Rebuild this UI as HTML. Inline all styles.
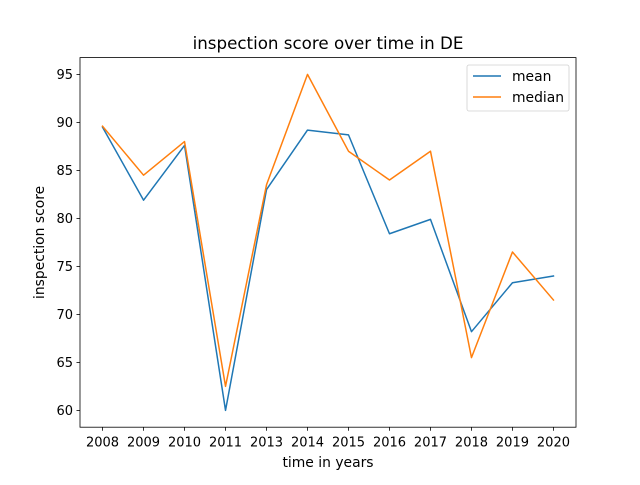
<!DOCTYPE html>
<html><head><meta charset="utf-8"><style>body{margin:0;background:#fff}svg{font-family:"DejaVu Sans","Liberation Sans",sans-serif}</style></head>
<body>
<svg id="chart" width="640" height="480" xmlns="http://www.w3.org/2000/svg"></svg>
<script>
const categories=["2008","2009","2010","2011","2013","2014","2015","2016","2017","2018","2019","2020"];
const meanValues=[89.5,81.9,87.6,60.0,83.0,89.2,88.7,78.4,79.9,68.2,73.3,74.0];
const medianValues=[89.6,84.5,88.0,62.5,83.5,95.0,87.0,84.0,87.0,65.5,76.5,71.5];
const yTicks=[60,65,70,75,80,85,90,95];
const svg=document.getElementById('chart');const NS='http://www.w3.org/2000/svg';
const L=80,R=576,T=57.6,B=427.2;
const allV=meanValues.concat(medianValues);const mn=Math.min(...allV),mx=Math.max(...allV);const pad=(mx-mn)*0.05;
const y0=mn-pad,y1=mx+pad;const n=categories.length;const xm=(n-1)*0.05;
const xs=i=>L+(i+xm)/(n-1+2*xm)*(R-L);
const ys=v=>B-(v-y0)/(y1-y0)*(B-T);
function el(t,a,txt){const e=document.createElementNS(NS,t);for(const k in a)e.setAttribute(k,a[k]);if(txt!==undefined)e.textContent=txt;svg.appendChild(e);return e;}
let e=el('rect',{x:L,y:T,width:R-L,height:B-T,fill:'none',stroke:'#000','stroke-width':0.8});

categories.forEach((c,i)=>{const x=xs(i);
let t=el('line',{x1:x,x2:x,y1:B,y2:B+3.5,stroke:'#000','stroke-width':0.8});
let l=el('text',{x:x,y:B+19.5,'font-size':13,'text-anchor':'middle'},c);});
yTicks.forEach(v=>{const y=ys(v);
let t=el('line',{x1:L-3.5,x2:L,y1:y,y2:y,stroke:'#000','stroke-width':0.8});
let l=el('text',{x:L-7,y:y+4.7,'font-size':13,'text-anchor':'end'},v);});
function series(vals,color,name){const p=vals.map((v,i)=>xs(i)+','+ys(v)).join(' ');
let s=el('polyline',{points:p,fill:'none',stroke:color,'stroke-width':1.5,'stroke-linejoin':'round','stroke-linecap':'square'});}
series(meanValues,'#1f77b4','mean-line');series(medianValues,'#ff7f0e','median-line');
e=el('text',{x:(L+R)/2,y:49,'font-size':16.7,'text-anchor':'middle'},'inspection score over time in DE');
e=el('text',{x:(L+R)/2,y:467,'font-size':13.9,'text-anchor':'middle'},'time in years');
e=el('text',{x:0,y:0,'font-size':13.9,'text-anchor':'middle',transform:'translate(44,'+(T+B)/2+') rotate(-90)'},'inspection score');
e=el('rect',{x:467,y:65,width:102,height:46,rx:2,fill:'#fff',stroke:'#ccc','stroke-width':0.8,opacity:0.9});
[['mean','#1f77b4',76],['median','#ff7f0e',97]].forEach(([n2,c,y])=>{
let l=el('line',{x1:473,x2:501,y1:y,y2:y,stroke:c,'stroke-width':1.5});
let t=el('text',{x:512,y:y+5,'font-size':13.9},n2);});
</script>
</body></html>
